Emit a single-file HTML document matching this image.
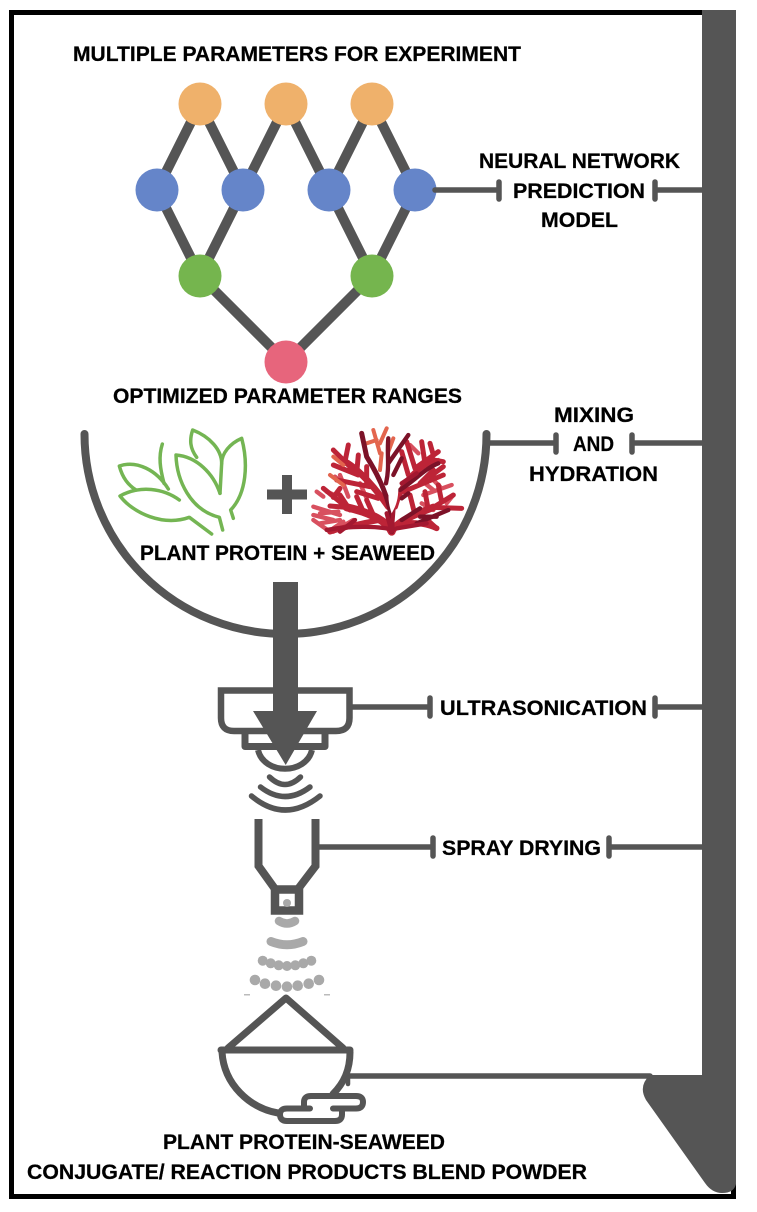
<!DOCTYPE html>
<html>
<head>
<meta charset="utf-8">
<style>
html,body{margin:0;padding:0;background:#fff;width:757px;height:1212px;overflow:hidden}
svg{display:block}
text{font-family:"Liberation Sans",sans-serif;font-weight:700;font-size:21px;fill:#000;stroke:#000;stroke-width:.25}
</style>
</head>
<body>
<svg width="757" height="1212" viewBox="0 0 757 1212" xmlns="http://www.w3.org/2000/svg">
<rect x="11.5" y="12.5" width="722" height="1184" fill="none" stroke="#000" stroke-width="5"/>
<rect x="702" y="10" width="34" height="1150" fill="#555"/>
<path d="M650 1075 L736 1075 L736 1184 Q734 1193 722 1193 Q712 1193 705 1183 L646 1100 Q638 1086 650 1075Z" fill="#555"/>

<g stroke="#555" stroke-width="10" fill="none">
<path d="M200 104L157 190L200 276L286 362L372 276L415 190L372 104L329 190L372 276"/>
<path d="M200 104L243 190L200 276M243 190L286 104L329 190"/>
</g>
<g>
<circle cx="200" cy="104" r="21.5" fill="#EFB16B"/><circle cx="286" cy="104" r="21.5" fill="#EFB16B"/><circle cx="372" cy="104" r="21.5" fill="#EFB16B"/>
<circle cx="157" cy="190" r="21.5" fill="#6585C9"/><circle cx="243" cy="190" r="21.5" fill="#6585C9"/><circle cx="329" cy="190" r="21.5" fill="#6585C9"/><circle cx="415" cy="190" r="21.5" fill="#6585C9"/>
<circle cx="200" cy="276" r="21.5" fill="#75B54E"/><circle cx="372" cy="276" r="21.5" fill="#75B54E"/>
<circle cx="286" cy="362" r="21.5" fill="#E7657C"/>
</g>

<g stroke="#555" stroke-width="5.500" fill="none" stroke-linecap="round">
<path d="M435 190H499M499 182V199M655 182V199M655 190H702"/>
<path d="M488 443H556M556 435V452M632 435V452M632 443H702"/>
<path d="M352 707H430M430 698V716M655 698V716M655 707H702"/>
<path d="M318 847H433M433 838V856M609 838V856M609 847H702"/>
<path d="M350 1076H650"/>
</g>

<path d="M84.500 434A201 200 0 0 0 486.500 434" fill="none" stroke="#555" stroke-width="8" stroke-linecap="round"/>

<g transform="translate(100 420) scale(.33333)" fill="none" stroke="#74b553" stroke-width="10.500" stroke-linecap="round" stroke-linejoin="round">
<path d="M187 72C175 110 180 145 192 190"/>
<path d="M205 207C170 150 110 120 58 138C68 175 85 195 108 210"/>
<path d="M238 240C190 205 120 195 60 228C100 280 190 320 268 292L335 342"/>
<path d="M360 220C340 160 290 110 228 105C230 180 270 270 358 292L368 330"/>
<path d="M290 112C270 85 268 60 278 30C330 50 365 90 365 130C365 100 390 70 425 55C445 130 440 220 392 270L400 295"/>
<path d="M360 220L365 130"/>
</g>

<path d="M267 494.500H307M287 475V514" stroke="#555" stroke-width="10" fill="none"/>

<g transform="translate(100 420) scale(.33333)" fill="none" stroke-linecap="round" stroke-linejoin="round">
<g stroke="#d8505f" stroke-width="13">
<path d="M690 335L640 300M700 325L730 305M720 285L640 260M660 280L715 275M670 230L650 215M680 215L715 230"/>
<path d="M970 225L1055 195M1000 210L975 190M1060 225L1040 250M965 250L1000 270"/>
<path d="M705 170L730 190M745 230L720 165M800 235L780 190"/>
<path d="M1000 180L1020 200M930 75L955 100M1015 120L985 140"/>
<path d="M640 285L700 300M660 310L720 300M700 335L760 300"/>
</g>
<g stroke="#bd2437" stroke-width="15">
<path d="M875 335C860 300 800 275 740 262" stroke-width="24"/>
<path d="M875 335C890 305 940 285 1000 262" stroke-width="22"/>
<path d="M840 300C780 310 720 325 690 335" stroke-width="17"/>
<path d="M740 262L670 205M740 262L690 258M700 232L720 205M790 275L770 230M750 270L720 225M820 285L800 240"/>
<path d="M1000 262L1085 265M1000 262L1060 225M1025 245L1015 195M960 280L1010 325M985 270L975 215M945 285L930 225"/>
<path d="M905 310C950 305 990 315 1010 325" stroke-width="17"/>
<path d="M865 260C830 210 780 150 735 125" stroke-width="20"/>
<path d="M775 165L700 135M735 125L700 90M735 125L745 75M770 160L775 105M810 200L710 180M835 235L770 215M755 145L725 115M800 190L800 140"/>
<path d="M885 260C900 200 940 150 1000 120" stroke-width="18"/>
<path d="M945 145L920 65M945 145L1015 95M1000 120L1030 125M925 165L905 95M975 130L965 65M910 215L1030 165M960 190L1000 150M990 170L1030 140M1000 105L990 70"/>
</g>
<g stroke="#e3654e" stroke-width="12">
<path d="M820 30L840 100M860 25L840 70M830 60L800 70M865 95L880 55M845 100L840 150"/>
<path d="M690 165L730 195M700 110L730 135"/>
</g>
<g stroke="#7c1228" stroke-width="13">
<path d="M875 335C880 270 850 190 800 110L785 40" stroke-width="15"/>
<path d="M858 190C870 140 860 100 865 55M865 130L925 45M880 165L905 115"/>
<path d="M900 210C940 185 975 145 1015 130M905 235L925 220M1010 290L960 290M905 300L960 265"/>
<path d="M1045 270L950 310"/>
</g>
<g stroke="#a31830" stroke-width="13">
<path d="M875 335L860 280M875 335L880 270M880 330C850 320 760 315 680 330M890 325L980 310"/>
<path d="M765 300L720 335M950 160L905 190"/>
</g>
<path d="M870 200C880 170 885 165 895 205C895 250 880 270 875 280C865 250 862 225 870 200Z" fill="#fff" stroke="none"/>
</g>

<text x="140" y="560" textLength="295" lengthAdjust="spacingAndGlyphs">PLANT PROTEIN + SEAWEED</text>

<g fill="none" stroke="#555">
<path d="M221 690.500H349.500V718Q349.500 731 336 731H234Q221 731 221 718Z" stroke-width="6.500"/>
<path d="M245 733V746.500H325V733" stroke-width="7" stroke-linejoin="round"/>
<path d="M258 750C264 775 306 775 312 750" stroke-width="6"/>
<path d="M269.500 777Q285 792 300.500 777" stroke-width="5.500" stroke-linecap="round"/>
<path d="M260.500 787Q285 806 310 787" stroke-width="5.500" stroke-linecap="round"/>
<path d="M251.500 796Q285 824 320 796" stroke-width="5.500" stroke-linecap="round"/>
<path d="M258.500 819V866L275 889M315.500 819V866L298 889" stroke-width="8"/>
<path d="M275 889.500H299V910.500H275Z" stroke-width="8.500"/>
</g>
<rect x="273" y="582" width="25" height="132" fill="#555"/>
<path d="M253 711H317L285.700 765Z" fill="#555"/>

<g fill="#a9a9a9">
<circle cx="287" cy="903" r="4"/>
<path d="M279 921Q287 926 295 921" fill="none" stroke="#a9a9a9" stroke-width="8.500" stroke-linecap="round"/>
<path d="M271 941.500Q287 948 303 941.500" fill="none" stroke="#a9a9a9" stroke-width="9" stroke-linecap="round"/>
<circle cx="262.700" cy="960.700" r="5"/><circle cx="270.700" cy="963.300" r="5"/><circle cx="278.700" cy="965.300" r="5"/><circle cx="287" cy="966" r="5"/><circle cx="295.300" cy="965.300" r="5"/><circle cx="303.300" cy="963.300" r="5"/><circle cx="311.300" cy="960.700" r="5"/>
<circle cx="255" cy="980" r="5.300"/><circle cx="265" cy="983.700" r="5.300"/><circle cx="276" cy="985.700" r="5.300"/><circle cx="287" cy="986.700" r="5.300"/><circle cx="297.700" cy="985.700" r="5.300"/><circle cx="308.700" cy="983.700" r="5.300"/><circle cx="319" cy="980" r="5.300"/>
<rect x="244" y="994" width="6" height="1.500" fill="#bbb"/><rect x="324" y="994" width="6" height="1.500" fill="#bbb"/>
</g>

<g fill="none" stroke="#555" stroke-linejoin="round" stroke-linecap="round">
<path d="M228 1048L286 998L343 1048" stroke-width="7"/>
<path d="M221 1050H350" stroke-width="7"/>
<path d="M222 1052C224 1085 250 1108 278 1113" stroke-width="7"/>
<path d="M350 1052C350 1070 344 1083 333 1094" stroke-width="7"/>
<path d="M348 1078V1084" stroke-width="4.500"/>
<path d="M333 1108.500H356Q363 1108.500 363 1102Q363 1096 356 1096H311Q304 1096 304 1102V1108.500H310" stroke-width="6"/>
<path d="M304 1108.500H287Q280 1108.500 280 1114.500Q280 1121 287 1121H335Q342 1121 342 1114.500V1108.500" stroke-width="6"/>
</g>

<text x="73" y="61" textLength="448" lengthAdjust="spacingAndGlyphs">MULTIPLE PARAMETERS FOR EXPERIMENT</text>
<text x="479" y="168" textLength="201" lengthAdjust="spacingAndGlyphs">NEURAL NETWORK</text>
<text x="513" y="198" textLength="132" lengthAdjust="spacingAndGlyphs">PREDICTION</text>
<text x="541" y="227" textLength="77" lengthAdjust="spacingAndGlyphs">MODEL</text>
<text x="113" y="403" textLength="349" lengthAdjust="spacingAndGlyphs">OPTIMIZED PARAMETER RANGES</text>
<text x="554" y="422" textLength="80" lengthAdjust="spacingAndGlyphs">MIXING</text>
<text x="573" y="451" textLength="41" lengthAdjust="spacingAndGlyphs">AND</text>
<text x="529" y="481" textLength="129" lengthAdjust="spacingAndGlyphs">HYDRATION</text>
<text x="440" y="715" textLength="207" lengthAdjust="spacingAndGlyphs">ULTRASONICATION</text>
<text x="442" y="855" textLength="159" lengthAdjust="spacingAndGlyphs">SPRAY DRYING</text>
<text x="163" y="1149" textLength="282" lengthAdjust="spacingAndGlyphs">PLANT PROTEIN-SEAWEED</text>
<text x="27" y="1179" textLength="560" lengthAdjust="spacingAndGlyphs">CONJUGATE/ REACTION PRODUCTS BLEND POWDER</text>
</svg>
</body>
</html>
